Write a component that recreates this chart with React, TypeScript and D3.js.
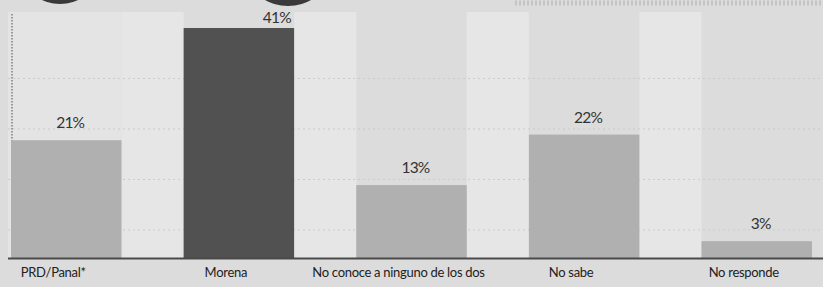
import React from 'react';
import * as d3 from 'd3';

const categories = ['PRD/Panal*', 'Morena', 'No conoce a ninguno de los dos', 'No sabe', 'No responde'];
const values = [21, 41, 13, 22, 3];
const valueLabels = ['21%', '41%', '13%', '22%', '3%'];
const highlight = ['Morena'];

const W = 823;
const H = 287;

export default function App() {
  const x = d3.scaleBand<string>()
    .domain(categories)
    .range([11, 812])
    .paddingInner(0.36)
    .paddingOuter(0);

  const y = d3.scaleLinear()
    .domain([0, 41])
    .range([258, 28]);

  const bw = x.bandwidth();
  const font = 'Lato, "Open Sans", sans-serif';

  // lighter columns between bars
  const gaps = categories.slice(0, -1).map(c => ({
    x0: (x(c) as number) + bw,
    x1: (x(c) as number) + x.step(),
  }));

  const gridY = d3.range(4).map(i => y(5 + i * 9));

  return (
    <svg width={W} height={H} style={{ position: 'absolute', left: 0, top: 0, display: 'block' }}>
      <rect x={0} y={0} width={W} height={H} fill="#dcdcdc" />
      {gaps.map((g, i) => (
        <rect key={i} x={g.x0} y={12} width={g.x1 - g.x0} height={246} fill="#e6e6e6" />
      ))}
      <rect x={8} y={12} width={bw + 3} height={246} fill="#e4e4e4" />

      {gridY.map((gy, i) => (
        <line key={i} x1={8} x2={W} y1={gy} y2={gy} stroke="#cbcbcb" strokeDasharray="2 3" />
      ))}

      {/* cropped photo bits at the top */}
      <ellipse cx={60} cy={-22} rx={34} ry={26} fill="#3a3a3a" />
      <ellipse cx={288} cy={-20} rx={36} ry={26} fill="#3a3a3a" />
      <line x1={515} x2={W} y1={3} y2={3} stroke="#c4c4c4" strokeWidth={5} strokeDasharray="2 2" />

      <line x1={12} x2={12} y1={14} y2={258} stroke="#666" strokeWidth={1.2} strokeDasharray="1.5 1.5" />

      {categories.map((c, i) => (
        <rect
          key={c}
          x={x(c)}
          y={y(values[i])}
          width={bw}
          height={y(0) - y(values[i])}
          fill={highlight.includes(c) ? '#515151' : '#b0b0b0'}
        />
      ))}

      <line x1={8} x2={W} y1={258.5} y2={258.5} stroke="#4a4a4a" strokeWidth={2} />

      {categories.map((c, i) => (
        <text
          key={c}
          x={(x(c) as number) + bw / 2 + (c === 'Morena' ? 38 : 4)}
          y={Math.max(y(values[i]) - 12, 23)}
          textAnchor="middle"
          fontFamily={font}
          fontSize={15.5}
          letterSpacing={-0.8}
          fill="#333"
        >
          {valueLabels[i]}
        </text>
      ))}

      {categories.map((c, i) => (
        <text
          key={c}
          x={(x(c) as number) + bw / 2 - 13}
          y={277}
          textAnchor="middle"
          fontFamily={font}
          fontSize={13}
          letterSpacing={-0.3}
          fill="#222"
        >
          {c}
        </text>
      ))}
    </svg>
  );
}
